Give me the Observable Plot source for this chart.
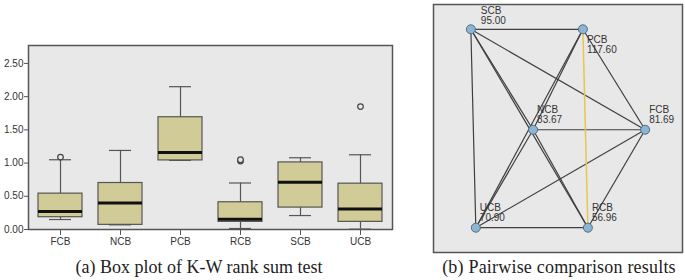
<!DOCTYPE html>
<html>
<head>
<meta charset="utf-8">
<script src="https://cdn.jsdelivr.net/npm/d3@7"></script>
<script src="https://cdn.jsdelivr.net/npm/@observablehq/plot@0.6"></script>
<style>
  body { margin: 0; background: #fff; }
  #wrap { position: relative; width: 685px; height: 280px; overflow: hidden; background: #fff; }
  .panel { position: absolute; top: 0; }
  .cap { position: absolute; font-family: "Liberation Serif", "Times New Roman", serif; font-size: 18px; color: #222; white-space: nowrap; transform: translateX(-50%); line-height: 20px; }
</style>
</head>
<body>
<div id="wrap">
  <div id="left" class="panel" style="left:0px"></div>
  <div id="right" class="panel" style="left:420px"></div>
  <div class="cap" style="left:199px; top:257px">(a) Box plot of K-W rank sum test</div>
  <div class="cap" style="left:559px; top:257px; letter-spacing:0.2px">(b) Pairwise comparison results</div>
</div>
<script>
// ---- Box plot data (a) ----
const categories = ["FCB", "NCB", "PCB", "RCB", "SCB", "UCB"];
const whiskerLow  = [0.15, 0.07, 1.04, 0.015, 0.21, 0.005];
const q1          = [0.185, 0.07, 1.04, 0.115, 0.33, 0.115];
const median      = [0.27, 0.40, 1.16, 0.155, 0.71, 0.31];
const q3          = [0.54, 0.70, 1.69, 0.41, 1.01, 0.69];
const whiskerHigh = [1.05, 1.19, 2.15, 0.70, 1.08, 1.125];
const outlierCat  = ["FCB", "RCB", "RCB", "UCB"];
const outlierVal  = [1.09, 1.03, 1.05, 1.85];
const yTicks      = [0, 0.5, 1.0, 1.5, 2.0, 2.5];

// ---- Pairwise comparison data (b) ----
const nodeNames = ["SCB", "PCB", "NCB", "FCB", "UCB", "RCB"];
const nodeRanks = ["95.00", "117.60", "83.67", "81.69", "70.90", "56.96"];
const nodeLayoutX = [15, 60, 40, 85, 17, 62];
const nodeLayoutY = [10, 10, 50.5, 50.5, 90, 90];
const edgeFrom = ["SCB","SCB","SCB","SCB","SCB","PCB","PCB","PCB","PCB","NCB","NCB","NCB","FCB","FCB","UCB"];
const edgeTo   = ["PCB","NCB","FCB","UCB","RCB","NCB","FCB","UCB","RCB","FCB","UCB","RCB","UCB","RCB","RCB"];
const significantEdge = ["PCB-RCB"];

// ---- Build (a) ----
const boxes = categories.map((c, i) => ({
  cat: c, lo: whiskerLow[i], q1: q1[i], med: median[i], q3: q3[i], hi: whiskerHigh[i]
}));
const outliers = outlierCat.map((c, i) => ({cat: c, v: outlierVal[i]}));

const capInset = 11;
const left = Plot.plot({
  width: 400,
  height: 256,
  marginLeft: 28,
  marginRight: 8,
  marginTop: 45,
  marginBottom: 27,
  style: {background: "transparent", fontFamily: "Liberation Sans, Arial, sans-serif", fontSize: "10px", color: "#333"},
  x: {type: "band", domain: categories, paddingInner: 0.27, paddingOuter: 0.135, label: null},
  y: {domain: [0, 2.77], label: null},
  marks: [
    Plot.frame({fill: "#e8e8e8", stroke: "#555", strokeWidth: 1.5}),
    Plot.ruleX(boxes, {x: "cat", y1: "lo", y2: "q1", stroke: "#555", strokeWidth: 1.2}),
    Plot.ruleX(boxes, {x: "cat", y1: "q3", y2: "hi", stroke: "#555", strokeWidth: 1.2}),
    Plot.tickY(boxes, {x: "cat", y: "hi", stroke: "#555", strokeWidth: 1.2, inset: capInset}),
    Plot.tickY(boxes, {x: "cat", y: "lo", stroke: "#555", strokeWidth: 1.2, inset: capInset}),
    Plot.barY(boxes, {x: "cat", y1: "q1", y2: "q3", fill: "#d1cb98", stroke: "#555", strokeWidth: 1.2}),
    Plot.tickY(boxes, {x: "cat", y: "med", stroke: "#111", strokeWidth: 3}),
    Plot.dot(outliers, {x: "cat", y: "v", r: 2.8, stroke: "#444", strokeWidth: 1.2, fill: "#e8e8e8"}),
    Plot.axisY({ticks: yTicks, tickFormat: d3.format(".2f"), tickSize: 4, tickPadding: 1, stroke: "#555"}),
    Plot.axisX({tickSize: 6, tickPadding: 2, stroke: "#555"})
  ]
});
document.getElementById("left").appendChild(left);

// ---- Build (b) ----
const nodes = nodeNames.map((n, i) => ({name: n, rank: nodeRanks[i], x: nodeLayoutX[i], y: nodeLayoutY[i]}));
const byName = Object.fromEntries(nodes.map(d => [d.name, d]));
const edges = edgeFrom.map((f, i) => {
  const a = byName[f], b = byName[edgeTo[i]];
  const key = f + "-" + edgeTo[i];
  return {x1: a.x, y1: a.y, x2: b.x, y2: b.y, sig: significantEdge.includes(key)};
});
const labelTopLeft = nodes.filter(d => d.name === "SCB");
const labelAbove = nodes.filter(d => d.name !== "PCB" && d.name !== "SCB");
const labelBelow = nodes.filter(d => d.name === "PCB");
const lbl = d => d.name + "\n" + d.rank;

const right = Plot.plot({
  width: 265,
  height: 256,
  marginLeft: 13,
  marginRight: 3,
  marginTop: 4,
  marginBottom: 4,
  style: {background: "transparent", fontFamily: "Liberation Sans, Arial, sans-serif", fontSize: "10px", color: "#333"},
  x: {domain: [0, 100], axis: null},
  y: {domain: [0, 100], reverse: true, axis: null},
  marks: [
    Plot.frame({fill: "#e8e8e8", stroke: "#555", strokeWidth: 1.5}),
    Plot.link(edges.filter(d => !d.sig), {x1: "x1", y1: "y1", x2: "x2", y2: "y2", stroke: "#3f3f3f", strokeWidth: 1.2}),
    Plot.link(edges.filter(d => d.sig), {x1: "x1", y1: "y1", x2: "x2", y2: "y2", stroke: "#e6c552", strokeWidth: 1.5}),
    Plot.dot(nodes, {x: "x", y: "y", r: 4.5, fill: "#8db4d0", stroke: "#4d6d88", strokeWidth: 1}),
    Plot.text(labelTopLeft, {x: "x", y: "y", text: lbl, textAnchor: "start", lineAnchor: "bottom", lineHeight: 1.0, dx: 10, dy: -5, fill: "#333"}),
    Plot.text(labelAbove, {x: "x", y: "y", text: lbl, textAnchor: "start", lineAnchor: "bottom", lineHeight: 1.0, dx: 4, dy: -7, fill: "#333"}),
    Plot.text(labelBelow, {x: "x", y: "y", text: lbl, textAnchor: "start", lineAnchor: "top", lineHeight: 1.0, dx: 4, dy: 7, fill: "#333"})
  ]
});
document.getElementById("right").appendChild(right);
</script>
</body>
</html>
